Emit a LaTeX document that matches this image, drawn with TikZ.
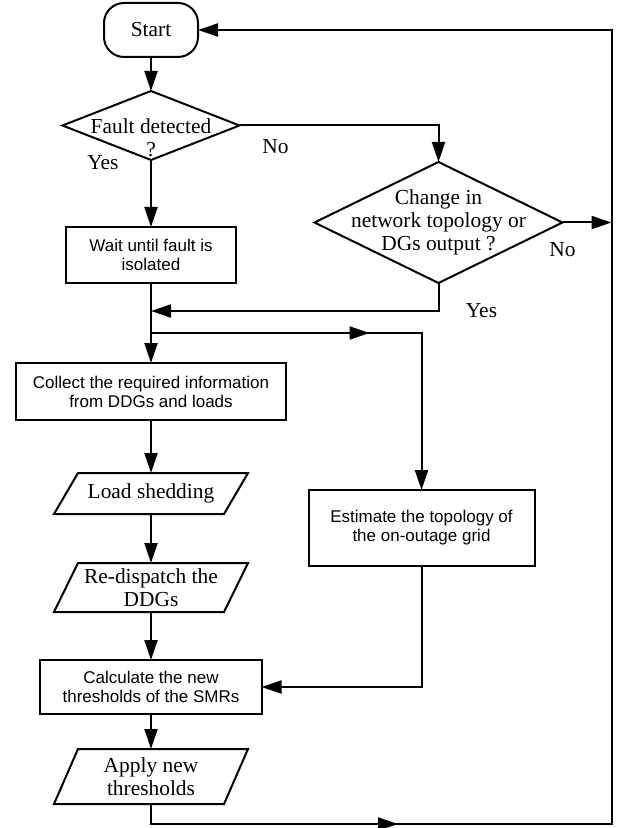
\documentclass[tikz,border=0pt]{standalone}
\usepackage{fontspec}
\setmainfont{Liberation Serif}
\setsansfont{Liberation Sans}
\usetikzlibrary{shapes}
\usetikzlibrary{positioning}
\usetikzlibrary{arrows.meta}
\tikzstyle{serif} = [font=\fontsize{10.7}{11.5}\selectfont]
\tikzstyle{terminal} = [rectangle, rounded corners=10pt, draw=black, outer sep=0pt,
minimum width=47pt, minimum height=27pt, serif]
\tikzstyle{decision} = [diamond, draw=black, inner sep=-8pt, outer sep=0pt, align=center, serif]
\tikzstyle{process} = [rectangle, draw=black, inner sep=2pt, outer sep=0pt, align=center,
font=\sffamily\fontsize{8.5}{9.5}\selectfont]
\tikzstyle{io} = [rectangle, inner sep=1pt, outer sep=0pt, minimum width=85pt, align=center, serif]
\tikzstyle{caption} = [serif, inner sep=0pt]
\tikzset{>={Triangle[length=10pt,width=6.5pt]}}
\newcommand{\iobox}[1]{ %
  % Draw a slanted outline round each of the nodes #1.
  \foreach \x in {#1} { %
    \draw ([xshift=6pt]\x.north west) -- ([xshift=6pt]\x.north east)
      -- ([xshift=-6pt]\x.south east) -- ([xshift=-6pt]\x.south west) -- cycle ;%
  } ;
}

\begin{document}
\begin{tikzpicture}[line width=1pt]
	\useasboundingbox (-75.5pt,15pt) rectangle (235.5pt,-399pt);
	\node[terminal] (start) at (0,0) {Start} ; %
	\node[decision, below=17pt of start, aspect=2.57, minimum width=88.5pt, minimum height=34.5pt, text height=31pt] (fault) {Fault detected\\?} ;
	\node[process, below=33.5pt of fault, minimum width=85pt, minimum height=28pt] (wait) {Wait until fault is\\isolated} ;
	\node[decision, right=37.5pt of fault, yshift=-48.5pt, aspect=2.05, minimum width=124pt, minimum height=60.5pt] (change) {Change in\\network topology or\\DGs output ?} ;

	\node[process, below=40pt of wait, minimum width=134.5pt, minimum height=28.5pt] (collect) {Collect the required information\\from DDGs and loads} ;
	\node[io, below=26.5pt of collect, minimum height=20.5pt] (load) {Load shedding} ;
	\node[io, below=24.5pt of load, minimum height=24.5pt] (redispatch) {Re-dispatch the\\DDGs} ;
	\node[process, below=24pt of redispatch, minimum width=110.5pt, minimum height=27pt] (calc) {Calculate the new\\thresholds of the SMRs} ;
	\node[io, below=17.5pt of calc, minimum height=27.5pt] (apply) {Apply new\\thresholds} ;
	\node[process, below=103.5pt of change, xshift=-8.5pt, minimum width=113pt, minimum height=38pt] (estimate) {Estimate the topology of\\the on-outage grid} ;
	\iobox{load,redispatch,apply}

	% corners of the connectors
	\coordinate[below=14pt of change.south] (ycorner) ;
	\coordinate[below=25pt of wait.south] (split) ;
	\coordinate (bturn) at (split -| estimate.north) ;
	\coordinate[below=10pt of apply.south] (bcorner) ;
	\coordinate[right=24.5pt of change.east] (rail) ;

	\draw[->] (start) -- (fault) ;
	\draw[->] (fault) -- (wait) ;
	\draw[->] (fault.east) -| (change.north) ;
	\draw[->] (change.east) -- (rail) ;
	\draw[->] (change.south) -- (ycorner) -- (ycorner -| wait.south) ;
	\draw[->] (wait.south) -- (collect.north) ;
	\draw[->] (split) -- (bturn) -- (estimate.north) ;
	\draw[->] (split) -- ([xshift=-26pt]bturn) ;
	\draw[->] (collect) -- (load) ;
	\draw[->] (load) -- (redispatch) ;
	\draw[->] (redispatch) -- (calc) ;
	\draw[->] (calc) -- (apply) ;
	\draw[->] (estimate.south) |- (calc.east) ;
	\draw[->] (apply.south) -- (bcorner) -- (bcorner -| rail) -- (rail |- start.east) -- (start.east) ;
	\draw[->] (bcorner) -- ++(123.5pt,0) ;

	\node[caption] (yes1) at ([xshift=-24pt,yshift=-1.5pt]fault.south) {Yes} ;
	\node[caption] (no1) at ([xshift=18pt,yshift=-10.75pt]fault.east) {No} ;
	\node[caption] (no2) at ([yshift=-13.5pt]change.east) {No} ;
	\node[caption] (yes2) at ([xshift=21.5pt,yshift=-14pt]change.south) {Yes} ;
\end{tikzpicture}
\end{document}
